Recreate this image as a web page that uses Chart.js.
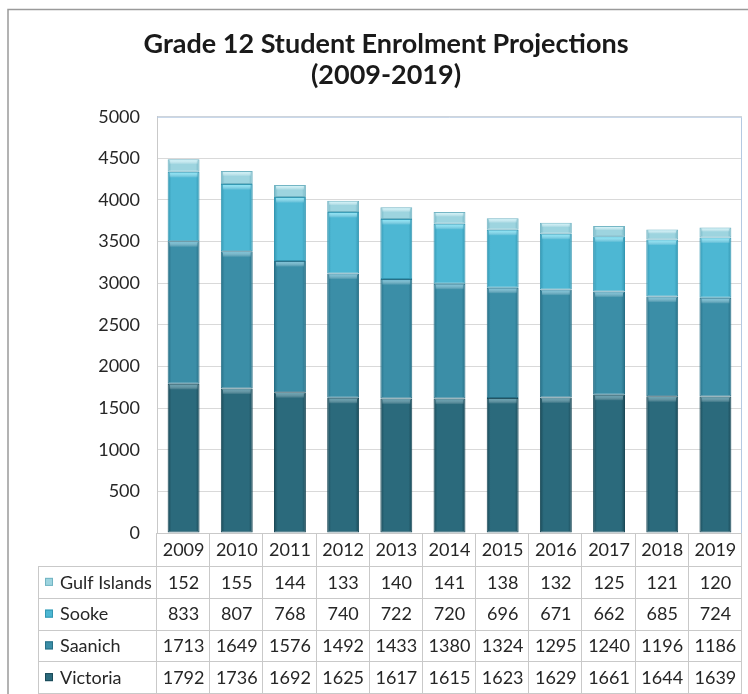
<!DOCTYPE html>
<html>
<head>
<meta charset="utf-8">
<script src="https://cdn.jsdelivr.net/npm/chart.js@4.4.1/dist/chart.umd.min.js"></script>
<style>
  html, body { margin: 0; padding: 0; background: #fff; }
  #wrap { position: relative; width: 748px; height: 694px; }
</style>
</head>
<body>
<div id="wrap"><canvas id="enrolChart"></canvas></div>
<script>
// ---------- data ----------
const years = ["2009", "2010", "2011", "2012", "2013", "2014", "2015", "2016", "2017", "2018", "2019"];
const victoria    = [1792, 1736, 1692, 1625, 1617, 1615, 1623, 1629, 1661, 1644, 1639];
const saanich     = [1713, 1649, 1576, 1492, 1433, 1380, 1324, 1295, 1240, 1196, 1186];
const sooke       = [833, 807, 768, 740, 722, 720, 696, 671, 662, 685, 724];
const gulfIslands = [152, 155, 144, 133, 140, 141, 138, 132, 125, 121, 120];
const yMax = 5000;
const yStep = 500;

const FONT = "Lato, 'Noto Sans', sans-serif";

// base colour, darker edge, light bevel
const palette = {
  "Victoria":     ["#2b6a7c", "#1b4a58", "rgba(120,175,190,0.75)"],
  "Saanich":      ["#3b8ea7", "#276f86", "rgba(140,205,225,0.8)"],
  "Sooke":        ["#4db7d3", "#3497b2", "rgba(150,235,250,0.85)"],
  "Gulf Islands": ["#9dd4df", "#72b4c3", "rgba(215,245,250,0.9)"]
};

function barFill(name) {
  return function (ctx) {
    const chart = ctx.chart;
    const [base, edge] = palette[name];
    if (!chart.chartArea || !chart.scales.x || ctx.dataIndex === undefined) return base;
    const xs = chart.scales.x;
    const cx = xs.getPixelForValue(ctx.dataIndex);
    const w = (chart.chartArea.width / years.length) * 0.6;
    const g = chart.ctx.createLinearGradient(cx - w / 2, 0, cx + w / 2, 0);
    g.addColorStop(0, edge);
    g.addColorStop(0.12, base);
    g.addColorStop(0.88, base);
    g.addColorStop(1, edge);
    return g;
  };
}

function makeSet(name, values) {
  return {
    label: name,
    data: values,
    backgroundColor: barFill(name),
    borderColor: palette[name][1],
    borderWidth: 1,
    borderSkipped: false,
    barPercentage: 0.6,
    categoryPercentage: 1.0
  };
}

// rows of the table, top to bottom
const tableRows = [
  ["Gulf Islands", gulfIslands],
  ["Sooke", sooke],
  ["Saanich", saanich],
  ["Victoria", victoria]
];

// light band on top of each segment (excel bevel look)
const bevelPlugin = {
  id: "bevel",
  afterDatasetsDraw(chart) {
    const c = chart.ctx;
    c.save();
    chart.data.datasets.forEach((ds, di) => {
      const meta = chart.getDatasetMeta(di);
      const light = palette[ds.label][2];
      meta.data.forEach(bar => {
        const h = Math.min(5, Math.abs(bar.base - bar.y) / 3);
        const g = c.createLinearGradient(0, bar.y + 1, 0, bar.y + 1 + h);
        g.addColorStop(0, light);
        g.addColorStop(1, "rgba(255,255,255,0)");
        c.fillStyle = g;
        c.fillRect(bar.x - bar.width / 2 + 2, bar.y + 1, bar.width - 4, h);
      });
    });
    c.restore();
  }
};

// ---------- frame + data table ----------
const tablePlugin = {
  id: "dataTable",
  beforeDraw(chart) {
    const c = chart.ctx;
    c.save();
    c.fillStyle = "#fff";
    c.fillRect(0, 0, chart.width, chart.height);
    c.strokeStyle = "#9a9a9a";
    c.lineWidth = 1.5;
    c.strokeRect(8, 9.5, chart.width + 20, chart.height + 20);
    c.restore();
  },
  afterDraw(chart) {
    const c = chart.ctx;
    const area = chart.chartArea;
    const xs = chart.scales.x;
    const colW = area.width / years.length;
    const headTop = area.bottom;
    const headH = 33;
    const rowH = 31.75;
    const labelLeft = 38;
    const bottom = headTop + headH + rowH * tableRows.length;

    c.save();
    // plot border (top / right) light blue
    c.strokeStyle = "#b4c9e2";
    c.lineWidth = 1;
    c.beginPath();
    c.moveTo(area.left, area.top + 0.5);
    c.lineTo(area.right - 0.5, area.top + 0.5);
    c.lineTo(area.right - 0.5, area.bottom);
    c.stroke();

    // table lines
    c.strokeStyle = "#c9c9c9";
    c.beginPath();
    c.moveTo(area.left, Math.round(headTop) + 0.5);
    c.lineTo(area.right, Math.round(headTop) + 0.5);
    for (let r = 0; r <= tableRows.length; r++) {
      const y = Math.round(headTop + headH + r * rowH) + 0.5;
      c.moveTo(labelLeft, y);
      c.lineTo(area.right, y);
    }
    for (let i = 0; i <= years.length; i++) {
      const x = Math.round(area.left + i * colW) - 0.5;
      c.moveTo(x, headTop);
      c.lineTo(x, bottom);
    }
    c.moveTo(labelLeft + 0.5, headTop + headH);
    c.lineTo(labelLeft + 0.5, bottom);
    c.stroke();

    // year header
    c.fillStyle = "#262626";
    c.font = "18px " + FONT;
    c.textAlign = "center";
    c.textBaseline = "middle";
    years.forEach((yr, i) => {
      c.fillText(yr, xs.getPixelForValue(i), headTop + headH / 2 + 1);
    });

    // rows
    tableRows.forEach(([name, values], r) => {
      const cy = headTop + headH + r * rowH + rowH / 2 + 1;
      c.fillStyle = palette[name][0];
      c.fillRect(labelLeft + 7, cy - 5, 8, 8);
      c.strokeStyle = palette[name][1];
      c.strokeRect(labelLeft + 7.5, cy - 4.5, 7, 7);
      c.fillStyle = "#262626";
      c.textAlign = "left";
      c.fillText(name, labelLeft + 22, cy);
      c.textAlign = "center";
      values.forEach((v, i) => {
        c.fillText(String(v), xs.getPixelForValue(i), cy);
      });
    });
    c.restore();
  }
};

new Chart(document.getElementById("enrolChart"), {
  type: "bar",
  data: {
    labels: years,
    datasets: [
      makeSet("Victoria", victoria),
      makeSet("Saanich", saanich),
      makeSet("Sooke", sooke),
      makeSet("Gulf Islands", gulfIslands)
    ]
  },
  options: {
    responsive: true,
    maintainAspectRatio: false,
    animation: false,
    layout: { padding: { left: 30, right: 6, top: 10, bottom: 1 } },
    plugins: {
      legend: { display: false },
      tooltip: { enabled: false },
      title: {
        display: true,
        text: ["Grade 12 Student Enrolment Projections", "(2009-2019)"],
        color: "#1a1a1a",
        font: { family: FONT, size: 27, weight: "bold", lineHeight: 1.18 },
        padding: { top: 18, bottom: 25 }
      }
    },
    scales: {
      x: {
        stacked: true,
        grid: { display: false, drawTicks: false },
        border: { display: false },
        ticks: { display: false },
        afterFit(scale) { scale.height = 160; }
      },
      y: {
        stacked: true,
        min: 0,
        max: yMax,
        ticks: {
          stepSize: yStep,
          padding: 17,
          color: "#262626",
          font: { family: FONT, size: 18 },
          callback: (v) => String(v)
        },
        grid: { color: "#d9d9d9", drawTicks: false },
        border: { display: true, color: "#c9c9c9" },
        afterFit(scale) { scale.width = 127; }
      }
    }
  },
  plugins: [bevelPlugin, tablePlugin]
});
</script>
</body>
</html>
